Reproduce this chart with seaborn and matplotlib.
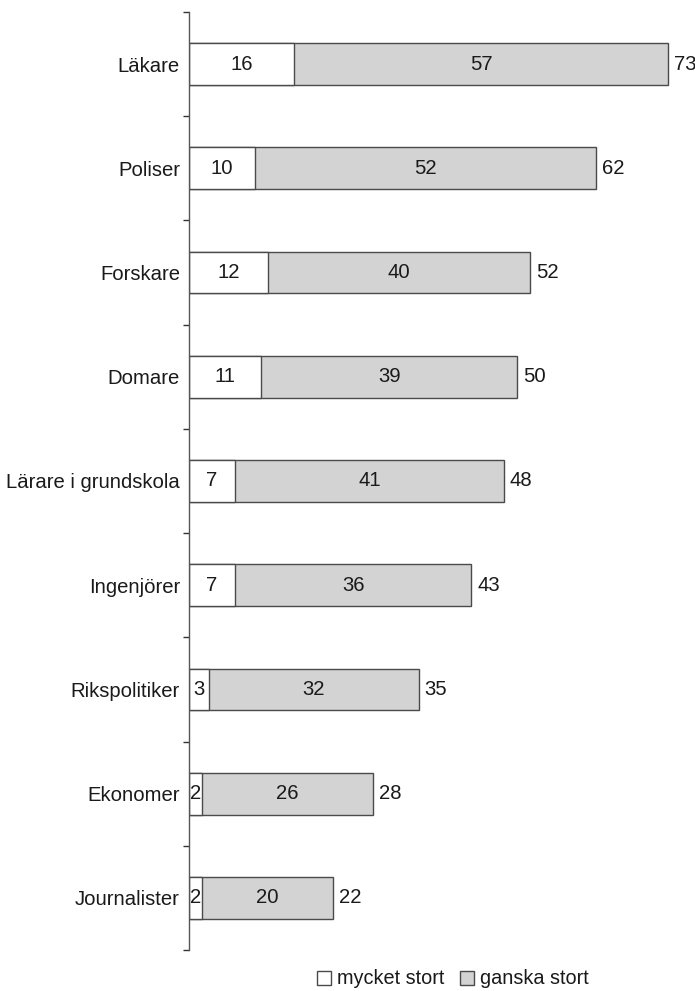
import matplotlib
matplotlib.use("Agg")
import matplotlib.pyplot as plt
import seaborn as sns
import pandas as pd
import numpy as np
from matplotlib.patches import Patch
from matplotlib.ticker import FixedLocator

categories = ["Läkare", "Poliser", "Forskare", "Domare", "Lärare i grundskola",
              "Ingenjörer", "Rikspolitiker", "Ekonomer", "Journalister"]
mycket_stort = [16, 10, 12, 11, 7, 7, 3, 2, 2]
ganska_stort = [57, 52, 40, 39, 41, 36, 32, 26, 20]
totals = [73, 62, 52, 50, 48, 43, 35, 28, 22]
legend_labels = ["mycket stort", "ganska stort"]

sns.set_theme(style="white")
plt.rcParams['font.family'] = ['Liberation Sans', 'DejaVu Sans']

TXT = "#1a1a1a"
EDGE = "#4a4a4a"
GRAY = "#d3d3d3"

df = pd.DataFrame({"cat": categories, "mycket": mycket_stort,
                   "ganska": ganska_stort, "total": totals})
df["stack"] = df["mycket"] + df["ganska"]

fig = plt.figure(figsize=(6.95, 9.91), dpi=100)
ax = fig.add_axes([189/695, 1 - 950/991, (695 - 189)/695, (950 - 12)/991])

sns.barplot(data=df, y="cat", x="stack", color=GRAY, orient="h", width=0.4,
            edgecolor=EDGE, linewidth=1.0, saturation=1, ax=ax)
sns.barplot(data=df, y="cat", x="mycket", color="white", orient="h", width=0.4,
            edgecolor=EDGE, linewidth=1.0, saturation=1, ax=ax)

fs = 14.6
for i, row in df.iterrows():
    ax.text(row["mycket"] / 2, i, str(row["mycket"]), ha="center", va="center",
            fontsize=fs, color=TXT)
    ax.text(row["mycket"] + row["ganska"] / 2, i, str(row["ganska"]),
            ha="center", va="center", fontsize=fs, color=TXT)
    ax.annotate(str(row["total"]), xy=(row["stack"], i), xytext=(4.3, 0),
                textcoords="offset points", ha="left", va="center",
                fontsize=fs, color=TXT)

ax.set_xlim(0, (695 - 189) / ((668 - 189) / 73))
ax.set_ylim(len(categories) - 0.5, -0.5)
ax.set_xlabel("")
ax.set_ylabel("")
ax.set_xticks([])
for s in ["top", "right", "bottom"]:
    ax.spines[s].set_visible(False)
ax.spines["left"].set_color("#555555")
ax.spines["left"].set_linewidth(1.0)

ax.tick_params(axis="y", which="major", length=0, pad=6.5, labelsize=fs, labelcolor=TXT)
ax.yaxis.set_minor_locator(FixedLocator(np.arange(-0.5, len(categories), 1.0)))
ax.tick_params(axis="y", which="minor", length=4, width=1.0, color="#333333",
               direction="out", left=True)

handles = [Patch(facecolor="white", edgecolor=EDGE, linewidth=1.0),
           Patch(facecolor=GRAY, edgecolor=EDGE, linewidth=1.0)]
fig.legend(handles, legend_labels, loc="center", bbox_to_anchor=(453/695, 1 - 979/991),
           ncol=2, frameon=False, fontsize=14.3, handlelength=0.7, handleheight=0.7,
           handletextpad=0.3, columnspacing=0.8, labelcolor=TXT)

fig.savefig("out.png", dpi=100)
